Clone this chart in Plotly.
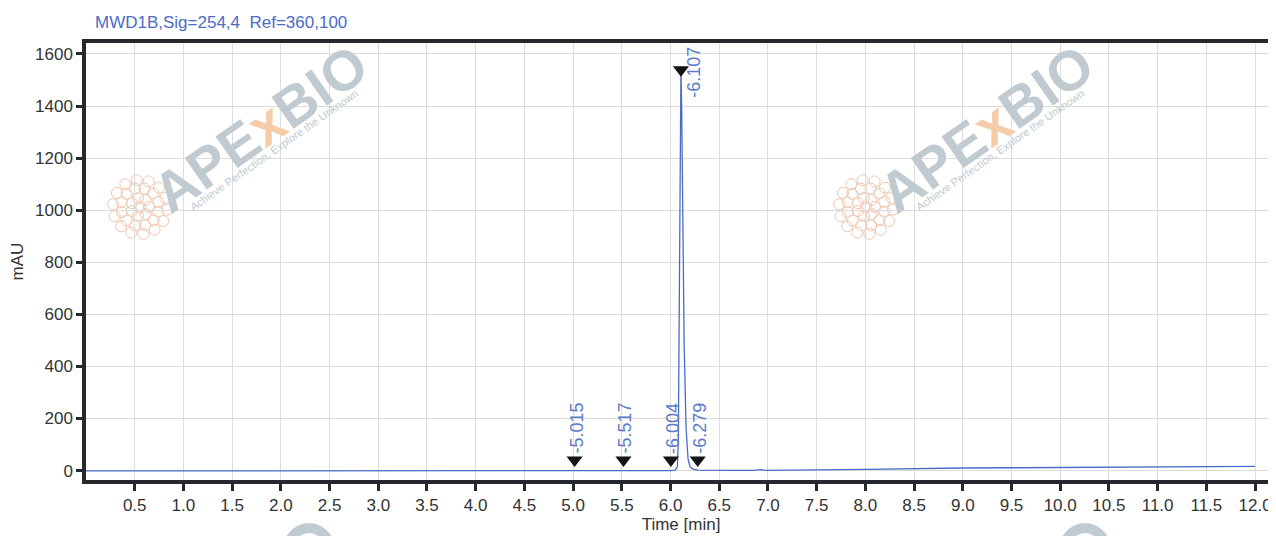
import math
import plotly.graph_objects as go

# ---- data ----
time_min = [0.0, 0.5, 1.0, 1.5, 2.0, 2.5, 3.0, 3.5, 4.0, 4.5, 5.0, 5.5, 5.9, 6.0, 6.05,
            6.07, 6.08, 6.09, 6.1, 6.107, 6.115, 6.125, 6.14, 6.16, 6.18, 6.2, 6.23,
            6.28, 6.4, 6.6, 6.85, 6.92, 6.97, 7.1, 7.5, 8.0, 8.5, 9.0, 9.5, 10.0,
            10.5, 11.0, 11.5, 12.0]
signal_mau = [-1, -1, -1, -1, -1, -1, -1, -1, -1, -1, -1, -1, -1, 0, 2,
              15, 120, 700, 1420, 1545, 1380, 1000, 480, 160, 45, 15, 6,
              2, 1, 1, 1, 4, 1, 2, 3, 5, 8, 10, 11, 12,
              13, 14, 15, 16]

peak_times = [5.015, 5.517, 6.004, 6.107, 6.279]
peak_labels = ["5.015", "5.517", "6.004", "6.107", "6.279"]
peak_marker_y = [41, 41, 41, 1539, 41]

x_ticks = [0.5 * i for i in range(1, 25)]
y_ticks = [0, 200, 400, 600, 800, 1000, 1200, 1400, 1600]

title_text = "MWD1B,Sig=254,4  Ref=360,100"

BLUE = "#4a6cc6"
LABEL_BLUE = "#5b7bc9"
DARK = "#25292e"
FONT = "Liberation Sans, Arial, sans-serif"
WM_GREY = "#c0cad1"

# page body has an 8px margin: shift figure so the plot area lands where the reference has it
OFF = 8
W, H = 1276 - OFF, 536 - OFF
# plot area in window pixels
PL, PR, PT, PB = 86, 1276, 43, 480
pw, ph = PR - PL, PB - PT


def px2paper(px, py):
    return (px - PL) / pw, 1 - (py - PT) / ph


fig = go.Figure()

fig.add_trace(go.Scatter(
    x=time_min, y=signal_mau, mode="lines",
    line=dict(color=BLUE, width=1.3), hoverinfo="skip", showlegend=False,
))

fig.add_trace(go.Scatter(
    x=peak_times, y=peak_marker_y, mode="markers",
    marker=dict(symbol="triangle-down", size=14, color="#141414"),
    showlegend=False, hoverinfo="skip",
))

annotations = []
for t, lab, my in zip(peak_times, peak_labels, peak_marker_y):
    if my > 1000:
        annotations.append(dict(
            x=t, y=my, xref="x", yref="y", text="-" + lab, showarrow=False,
            textangle=-90, font=dict(family=FONT, size=18, color=LABEL_BLUE),
            xanchor="left", yanchor="middle", xshift=1, yshift=-2,
        ))
    else:
        annotations.append(dict(
            x=t, y=58, xref="x", yref="y", text="-" + lab, showarrow=False,
            textangle=-90, font=dict(family=FONT, size=18, color=LABEL_BLUE),
            xanchor="center", yanchor="bottom", xshift=2,
        ))

# title
tx, ty = px2paper(93, 22)
annotations.append(dict(
    x=tx, y=ty, xref="paper", yref="paper", text=title_text, showarrow=False,
    font=dict(family=FONT, size=17, color=BLUE), xanchor="left", yanchor="middle",
))


# watermarks (approximate)
def watermark(cx, cy):
    out = []
    x, y = px2paper(cx, cy)
    out.append(dict(
        x=x, y=y, xref="paper", yref="paper",
        text="<b>APE<span style='color:#f4cca8'>x</span>BIO</b>", showarrow=False,
        textangle=-35, font=dict(family="Liberation Sans, Arial", size=56, color=WM_GREY),
        xanchor="center", yanchor="middle",
    ))
    x2, y2 = px2paper(cx + 14, cy + 22)
    out.append(dict(
        x=x2, y=y2, xref="paper", yref="paper",
        text="Achieve Perfection, Explore the Unknown", showarrow=False,
        textangle=-35, font=dict(family="Liberation Sans, Arial", size=11, color=WM_GREY),
        xanchor="center", yanchor="middle",
    ))
    return out


for cx, cy in [(260, 128), (986, 128)]:
    annotations += watermark(cx, cy)

shapes = []
# tops of the next (cut-off) watermark row: only the "O" arcs peek in at the bottom edge
for ox, oy in [(309, 558), (1085, 558)]:
    x0, y1 = px2paper(ox - 24, oy - 30)
    x1, y0 = px2paper(ox + 24, oy + 30)
    shapes.append(dict(type="circle", xref="paper", yref="paper",
                       x0=x0, x1=x1, y0=y0, y1=y1,
                       line=dict(color=WM_GREY, width=10), layer="below"))

for lx, ly in [(140, 207), (866, 207)]:
    for rr, n, rot in ((0, 1, 0), (9, 7, 0), (19, 12, 0.25), (27, 14, 0.1)):
        for k in range(n):
            ang = 2 * math.pi * k / n + rot
            cxp = lx + rr * math.cos(ang)
            cyp = ly + rr * math.sin(ang)
            r = 5.5
            x0, y1 = px2paper(cxp - r, cyp - r)
            x1, y0 = px2paper(cxp + r, cyp + r)
            shapes.append(dict(type="circle", xref="paper", yref="paper",
                               x0=x0, x1=x1, y0=y0, y1=y1,
                               line=dict(color="#f0c6ae", width=1), layer="below"))

fig.update_layout(
    width=W, height=H,
    margin=dict(l=PL - OFF, r=0, t=PT - OFF, b=H - (PB - OFF)),
    paper_bgcolor="white", plot_bgcolor="white",
    font=dict(family=FONT, size=17, color="#333333"),
    xaxis=dict(
        range=[0, 12.215], tickvals=x_ticks, ticktext=[f"{v:.1f}" for v in x_ticks],
        showgrid=True, gridcolor="#dcdcdc", gridwidth=1,
        showline=True, linecolor=DARK, linewidth=3.5, mirror=True,
        ticks="outside", ticklen=7, tickwidth=3, tickcolor=DARK,
        tickfont=dict(family=FONT, size=17, color="#333333"),
        title=dict(text="Time [min]", font=dict(family=FONT, size=17, color="#333333"), standoff=2),
        zeroline=False,
    ),
    yaxis=dict(
        range=[-36, 1642], tickvals=y_ticks,
        showgrid=True, gridcolor="#dcdcdc", gridwidth=1,
        showline=True, linecolor=DARK, linewidth=3.5,
        ticks="outside", ticklen=6, tickwidth=3, tickcolor=DARK,
        tickfont=dict(family=FONT, size=17, color="#333333"),
        title=dict(text="mAU", font=dict(family=FONT, size=17, color="#333333"), standoff=10),
        zeroline=False,
    ),
    annotations=annotations,
    shapes=shapes,
)

fig.write_html("out.html")
